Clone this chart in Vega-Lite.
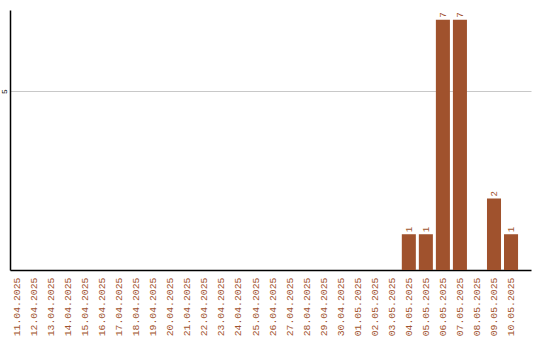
{
  "$schema": "https://vega.github.io/schema/vega-lite/v6.json",
  "width": 521,
  "height": 260,
  "autosize": "none",
  "padding": {"left": 10, "top": 10, "right": 9, "bottom": 70},
  "background": "white",
  "config": {"view": {"stroke": null}},
  "data": {
    "values": [
      {"date": "11.04.2025", "count": 0},
      {"date": "12.04.2025", "count": 0},
      {"date": "13.04.2025", "count": 0},
      {"date": "14.04.2025", "count": 0},
      {"date": "15.04.2025", "count": 0},
      {"date": "16.04.2025", "count": 0},
      {"date": "17.04.2025", "count": 0},
      {"date": "18.04.2025", "count": 0},
      {"date": "19.04.2025", "count": 0},
      {"date": "20.04.2025", "count": 0},
      {"date": "21.04.2025", "count": 0},
      {"date": "22.04.2025", "count": 0},
      {"date": "23.04.2025", "count": 0},
      {"date": "24.04.2025", "count": 0},
      {"date": "25.04.2025", "count": 0},
      {"date": "26.04.2025", "count": 0},
      {"date": "27.04.2025", "count": 0},
      {"date": "28.04.2025", "count": 0},
      {"date": "29.04.2025", "count": 0},
      {"date": "30.04.2025", "count": 0},
      {"date": "01.05.2025", "count": 0},
      {"date": "02.05.2025", "count": 0},
      {"date": "03.05.2025", "count": 0},
      {"date": "04.05.2025", "count": 1},
      {"date": "05.05.2025", "count": 1},
      {"date": "06.05.2025", "count": 7},
      {"date": "07.05.2025", "count": 7},
      {"date": "08.05.2025", "count": 0},
      {"date": "09.05.2025", "count": 2},
      {"date": "10.05.2025", "count": 1}
    ]
  },
  "encoding": {
    "x": {
      "field": "date",
      "type": "ordinal",
      "sort": null,
      "scale": {"paddingInner": 0.176, "paddingOuter": 0.38, "align": 0},
      "axis": {
        "title": null,
        "ticks": false,
        "labelAngle": 270,
        "labelPadding": 7,
        "labelFont": "Liberation Mono",
        "labelFontSize": 9.8,
        "labelColor": "#A0522D",
        "domainColor": "#000000",
        "domainWidth": 1.5,
        "grid": false
      }
    },
    "y": {
      "field": "count",
      "type": "quantitative",
      "scale": {"domain": [0, 7.27], "nice": false},
      "axis": {
        "title": null,
        "values": [5],
        "ticks": false,
        "labelAngle": 270,
        "labelPadding": 2,
        "labelFont": "Liberation Mono",
        "labelFontSize": 8,
        "labelColor": "#000000",
        "domainColor": "#000000",
        "domainWidth": 1.5,
        "grid": true,
        "gridColor": "#c8c8c8",
        "gridWidth": 1
      }
    }
  },
  "layer": [
    {
      "mark": {"type": "bar", "color": "#A0522D"}
    },
    {
      "transform": [{"filter": "datum.count > 0"}],
      "mark": {
        "type": "text",
        "angle": 270,
        "align": "left",
        "baseline": "middle",
        "dx": 2,
        "font": "Liberation Mono",
        "fontSize": 9,
        "color": "#A0522D"
      },
      "encoding": {"text": {"field": "count", "type": "quantitative"}}
    }
  ]
}
